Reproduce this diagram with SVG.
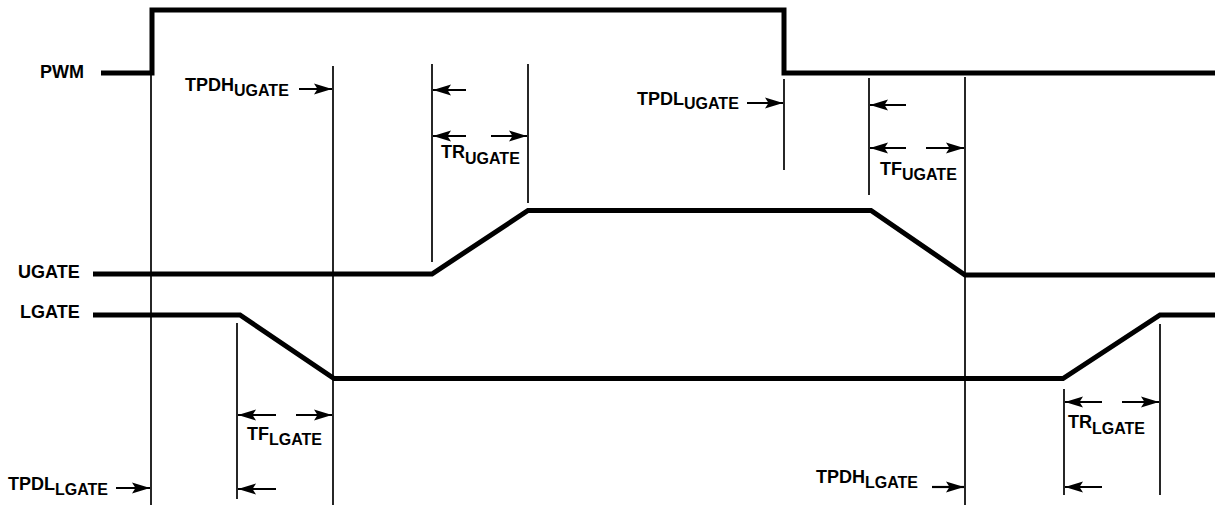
<svg xmlns="http://www.w3.org/2000/svg" width="1215" height="506" viewBox="0 0 1215 506">
<defs>
<marker id="ah" markerUnits="userSpaceOnUse" markerWidth="20" markerHeight="12" refX="18" refY="6" orient="auto">
<path d="M0,0.5 L18,6 L0,11.5 L3.5,6 z" fill="#000"/>
</marker>
<style>
.wave{fill:none;stroke:#000;stroke-width:5;stroke-linejoin:miter}
.tick{stroke:#000;stroke-width:1.7;fill:none}
.arr{stroke:#000;stroke-width:2.2;fill:none;marker-end:url(#ah)}
text{font-family:"Liberation Sans",Arial,sans-serif;font-weight:bold;font-size:18px;fill:#000}
.sub{font-size:16px}
</style>
</defs>
<rect width="1215" height="506" fill="#fff"/>
<g id="PWM">
<text x="40" y="78">PWM</text>
<path class="wave" d="M101,73 H152 V10 H784 V73 H1215"/>
</g>
<g id="UGATE">
<text x="18" y="278">UGATE</text>
<path class="wave" d="M93,274 H432 L528,210.5 H871 L965,275 H1215"/>
</g>
<g id="LGATE">
<text x="20" y="318">LGATE</text>
<path class="wave" d="M93,315 H240 L334,378.5 H1063 L1160,315 H1215"/>
</g>
<g id="markers">
<line class="tick" x1="151" y1="74" x2="151" y2="505"/>
<line class="tick" x1="333" y1="66" x2="333" y2="505"/>
<line class="tick" x1="432" y1="64" x2="432" y2="262"/>
<line class="tick" x1="528" y1="64" x2="528" y2="203"/>
<line class="tick" x1="784" y1="79" x2="784" y2="170"/>
<line class="tick" x1="869" y1="78" x2="869" y2="195"/>
<line class="tick" x1="965" y1="77" x2="965" y2="505"/>
<line class="tick" x1="237" y1="323" x2="237" y2="499"/>
<line class="tick" x1="1064" y1="389" x2="1064" y2="495"/>
<line class="tick" x1="1160" y1="324" x2="1160" y2="495"/>
</g>
<g id="connectors">
<line class="arr" x1="299" y1="89" x2="332" y2="89"/>
<line class="arr" x1="466" y1="90" x2="433" y2="90"/>
<line class="arr" x1="466" y1="136" x2="433" y2="136"/>
<line class="arr" x1="491" y1="136" x2="527" y2="136"/>
<line class="arr" x1="747" y1="103" x2="783" y2="103"/>
<line class="arr" x1="906" y1="105" x2="870" y2="105"/>
<line class="arr" x1="906" y1="148" x2="870" y2="148"/>
<line class="arr" x1="926" y1="148" x2="964" y2="148"/>
<line class="arr" x1="276" y1="415" x2="238" y2="415"/>
<line class="arr" x1="296" y1="415" x2="332" y2="415"/>
<line class="arr" x1="116" y1="488" x2="150" y2="488"/>
<line class="arr" x1="276" y1="489" x2="238" y2="489"/>
<line class="arr" x1="932" y1="487" x2="964" y2="487"/>
<line class="arr" x1="1102" y1="487" x2="1065" y2="487"/>
<line class="arr" x1="1102" y1="402" x2="1065" y2="402"/>
<line class="arr" x1="1122" y1="402" x2="1159" y2="402"/>
</g>
<g id="labels">
<text x="185" y="91">TPDH<tspan class="sub" dy="5">UGATE</tspan></text>
<text x="441" y="158">TR<tspan class="sub" dy="6">UGATE</tspan></text>
<text x="637" y="105">TPDL<tspan class="sub" dy="4">UGATE</tspan></text>
<text x="880" y="175">TF<tspan class="sub" dy="5">UGATE</tspan></text>
<text x="247" y="440">TF<tspan class="sub" dy="5">LGATE</tspan></text>
<text x="8" y="490">TPDL<tspan class="sub" dy="5">LGATE</tspan></text>
<text x="816" y="483">TPDH<tspan class="sub" dy="5">LGATE</tspan></text>
<text x="1068" y="428">TR<tspan class="sub" dy="6">LGATE</tspan></text>
</g>
</svg>
